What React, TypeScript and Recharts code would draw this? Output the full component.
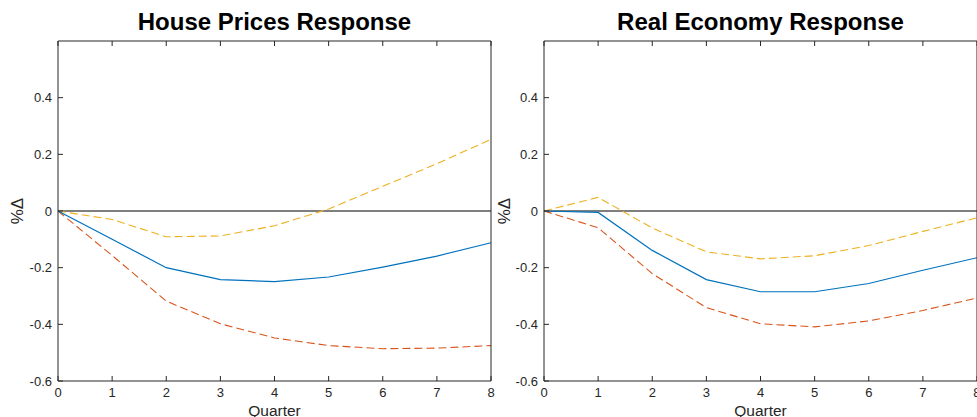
import { LineChart, Line, XAxis, YAxis, ReferenceLine } from 'recharts'

// quarters after the shock
const quarters = [0, 1, 2, 3, 4, 5, 6, 7, 8]
const xTicks = [0, 1, 2, 3, 4, 5, 6, 7, 8]
const yTicks = [-0.6, -0.4, -0.2, 0, 0.2, 0.4]

// house prices: median and bands
const housePricesMedian = [0, -0.1, -0.2, -0.242, -0.249, -0.233, -0.198, -0.159, -0.112]
const housePricesUpper = [0, -0.03, -0.091, -0.088, -0.052, 0.007, 0.087, 0.167, 0.253]
const housePricesLower = [0, -0.157, -0.318, -0.398, -0.448, -0.475, -0.486, -0.484, -0.475]

// real economy: median and bands
const realEconomyMedian = [0, -0.005, -0.139, -0.242, -0.285, -0.285, -0.256, -0.209, -0.165]
const realEconomyUpper = [0, 0.048, -0.06, -0.144, -0.169, -0.158, -0.122, -0.072, -0.024]
const realEconomyLower = [0, -0.059, -0.221, -0.341, -0.398, -0.409, -0.388, -0.351, -0.307]

const FONT = '"Liberation Sans", Arial, Helvetica, sans-serif'
const INK = '#262626'
const tickStyle = { fontSize: 13, fill: INK, fontFamily: FONT }

const fmt = (v: number) => (v === 0 ? '0' : String(Number(v.toFixed(1))))

function YLabel({ viewBox, dx }: any) {
  const x = (viewBox?.x ?? 0) + dx
  const y = (viewBox?.y ?? 41) + (viewBox?.height ?? 340) / 2
  return (
    <text
      x={x}
      y={y}
      transform={`rotate(-90, ${x}, ${y})`}
      textAnchor="middle"
      dominantBaseline="central"
      fontSize={17}
      fontFamily={FONT}
      fill={INK}
    >
      %Δ
    </text>
  )
}

interface PanelProps {
  title: string
  median: number[]
  upper: number[]
  lower: number[]
  left: number
  width: number
  yAxisWidth: number
  marginRight: number
  labelDx: number
}

function Panel({ title, median, upper, lower, left, width, yAxisWidth, marginRight, labelDx }: PanelProps) {
  const data = quarters.map((q, i) => ({ q, median: median[i], upper: upper[i], lower: lower[i] }))
  const plotLeft = yAxisWidth
  const plotRight = width - marginRight - 1
  return (
    <div style={{ position: 'absolute', left, top: 0, width, height: 417 }}>
      <div
        style={{
          position: 'absolute',
          left: plotLeft - 100,
          width: plotRight - plotLeft + 200,
          top: 7,
          textAlign: 'center',
          fontFamily: FONT,
          fontWeight: 'bold',
          fontSize: 24,
          lineHeight: '30px',
          color: '#000',
        }}
      >
        {title}
      </div>
      <LineChart width={width} height={417} data={data} margin={{ top: 40, right: marginRight, bottom: 0, left: 0 }}>
        <XAxis
          dataKey="q"
          type="number"
          domain={[0, 8]}
          ticks={xTicks}
          height={36}
          tickSize={-5}
          tickMargin={12}
          stroke={INK}
          tick={tickStyle}
          label={{ value: 'Quarter', position: 'insideBottom', offset: 1, fontSize: 15.5, fill: INK, fontFamily: FONT }}
        />
        <XAxis
          xAxisId="top"
          orientation="top"
          dataKey="q"
          type="number"
          domain={[0, 8]}
          ticks={xTicks}
          height={1}
          tickSize={-5}
          stroke={INK}
          tickFormatter={() => ''}
        />
        <YAxis
          type="number"
          domain={[-0.6, 0.6]}
          ticks={yTicks}
          width={yAxisWidth}
          tickSize={-5}
          tickMargin={11}
          stroke={INK}
          tick={tickStyle}
          tickFormatter={fmt}
          label={<YLabel dx={labelDx} />}
        />
        <YAxis
          yAxisId="right"
          orientation="right"
          type="number"
          domain={[-0.6, 0.6]}
          ticks={yTicks}
          width={1}
          tickSize={-5}
          stroke={INK}
          tickFormatter={() => ''}
        />
        <ReferenceLine y={0} stroke="#000" strokeWidth={1.2} />
        <Line type="linear" dataKey="upper" stroke="#EDB120" strokeWidth={1.1} strokeDasharray="8 4" dot={false} isAnimationActive={false} />
        <Line type="linear" dataKey="lower" stroke="#D95319" strokeWidth={1.1} strokeDasharray="8 4" dot={false} isAnimationActive={false} />
        <Line type="linear" dataKey="median" stroke="#0072BD" strokeWidth={1.2} dot={false} isAnimationActive={false} />
      </LineChart>
    </div>
  )
}

export default function App() {
  return (
    <div
      style={{
        position: 'absolute',
        left: 0,
        top: 0,
        width: 977,
        height: 417,
        overflow: 'hidden',
        background: '#fff',
      }}
    >
      <Panel
        title="House Prices Response"
        median={housePricesMedian}
        upper={housePricesUpper}
        lower={housePricesLower}
        left={0}
        width={500}
        yAxisWidth={58}
        marginRight={8}
        labelDx={17}
      />
      <Panel
        title="Real Economy Response"
        median={realEconomyMedian}
        upper={realEconomyUpper}
        lower={realEconomyLower}
        left={490}
        width={490}
        yAxisWidth={54}
        marginRight={2}
        labelDx={14}
      />
    </div>
  )
}
